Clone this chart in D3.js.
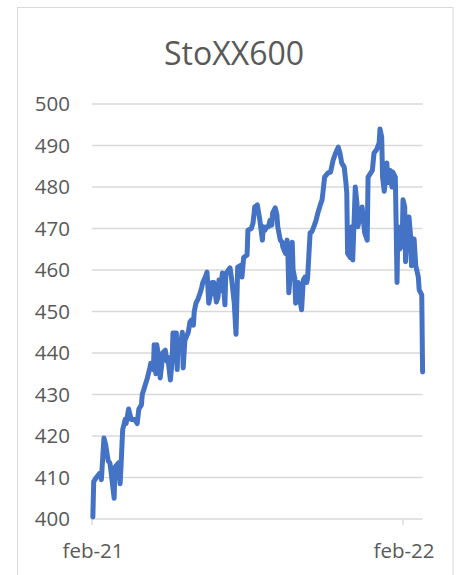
<!DOCTYPE html>
<html><head><meta charset="utf-8">
<script src="https://cdn.jsdelivr.net/npm/d3@7"></script>
<style>html,body{margin:0;padding:0;background:#fff;}svg{display:block;}</style>
</head><body>
<script>
const title = "StoXX600";
const yTicks = [400,410,420,430,440,450,460,470,480,490,500];
const xTickDates = ["2021-02-01","2022-02-01"];
const xTickLabels = ["feb-21","feb-22"];
const dates = [
"2021-02-02","2021-02-03","2021-02-06","2021-02-10","2021-02-12","2021-02-15","2021-02-17","2021-02-20","2021-02-22","2021-02-23",
"2021-02-27","2021-02-28","2021-03-04","2021-03-06","2021-03-07","2021-03-09","2021-03-12","2021-03-13","2021-03-16","2021-03-19",
"2021-03-21","2021-03-23","2021-03-26","2021-03-28","2021-03-31","2021-04-01","2021-04-04","2021-04-07","2021-04-10","2021-04-11",
"2021-04-14","2021-04-15","2021-04-17","2021-04-18","2021-04-21","2021-04-22","2021-04-24","2021-04-25","2021-04-28","2021-04-30",
"2021-05-01","2021-05-04","2021-05-06","2021-05-07","2021-05-11","2021-05-12","2021-05-13","2021-05-15","2021-05-18","2021-05-19",
"2021-05-21","2021-05-23","2021-05-25","2021-05-27","2021-05-29","2021-05-31","2021-06-01","2021-06-03","2021-06-05","2021-06-08",
"2021-06-10","2021-06-11","2021-06-14","2021-06-16","2021-06-17","2021-06-18","2021-06-21","2021-06-22","2021-06-24","2021-06-27",
"2021-06-29","2021-06-30","2021-07-02","2021-07-04","2021-07-05","2021-07-07","2021-07-08","2021-07-11","2021-07-13","2021-07-15",
"2021-07-18","2021-07-20","2021-07-22","2021-07-26","2021-07-27","2021-07-29","2021-08-02","2021-08-03","2021-08-07","2021-08-09",
"2021-08-11","2021-08-14","2021-08-15","2021-08-17","2021-08-20","2021-08-21","2021-08-23","2021-08-25","2021-08-27","2021-08-29",
"2021-08-31","2021-09-01","2021-09-04","2021-09-06","2021-09-07","2021-09-10","2021-09-12","2021-09-13","2021-09-16","2021-09-18",
"2021-09-19","2021-09-20","2021-09-23","2021-09-24","2021-09-25","2021-09-27","2021-09-28","2021-10-01","2021-10-03","2021-10-05",
"2021-10-07","2021-10-09","2021-10-11","2021-10-12","2021-10-15","2021-10-17","2021-10-20","2021-10-22","2021-10-24","2021-10-27",
"2021-10-29","2021-10-30","2021-11-01","2021-11-05","2021-11-08","2021-11-11","2021-11-14","2021-11-17","2021-11-19","2021-11-21",
"2021-11-24","2021-11-26","2021-11-27","2021-11-28","2021-12-01","2021-12-03","2021-12-04","2021-12-07","2021-12-09","2021-12-10",
"2021-12-15","2021-12-18","2021-12-21","2021-12-22","2021-12-27","2021-12-29","2022-01-01","2022-01-04","2022-01-05","2022-01-07",
"2022-01-08","2022-01-10","2022-01-13","2022-01-14","2022-01-17","2022-01-19","2022-01-20","2022-01-23","2022-01-24","2022-01-25",
"2022-01-26","2022-01-28","2022-01-31","2022-02-01","2022-02-03","2022-02-04","2022-02-07","2022-02-08","2022-02-10","2022-02-11",
"2022-02-14","2022-02-16","2022-02-19","2022-02-20","2022-02-23","2022-02-24"
];
const values = [
400.5,409,410,411,409.5,419.5,418,414,413.5,412,
405,412.5,413.5,408.5,412.5,421.5,424,423,426.5,424,
424,424,423,426.5,427.5,430,432,434,436.5,437.5,
436,442,435,442,438,434,437.5,440,440.7,438,
439,433.5,438,444.8,444.8,436,442.4,440.7,445,436.4,
443,444,445,447.5,448,446.7,450,452,452.8,454.5,
456,457,458.3,459.5,456,452,455,457,457,452.3,
453.5,457.6,455,459.3,457.6,451.6,459,460,460.5,457.6,
452,444.5,460.7,461.2,458.3,463,463.6,469.6,470,471.3,
475.2,475.7,474.5,472,467.2,470.4,469.6,470.4,470.4,472,
470.8,473.7,475,473.3,470.4,467.2,466.7,465.5,464,467.2,
463,454.5,462.4,466.7,460,458,452,457,452.8,450.4,
457.6,458.3,457,458,469,469.2,470.8,472,473.7,475.7,
476.9,478.6,482.4,483.4,483.6,486.5,488.2,489.6,488.2,485.8,
484.8,481,478.6,464,463,470.4,462.4,480,476,470.4,
475.2,469,467.2,482.4,484,488.2,489,490.6,494,492,
482.4,479,485.8,481,484,480,483.6,482.4,470.4,457,
470.4,465,466,476.9,475.2,462,472.8,472.8,468,461,
467.5,461,458.3,455.2,454,435.4
];

const W = 459, H = 575;
const parse = d3.utcParse("%Y-%m-%d");
const data = dates.map((d,i)=>({date:parse(d), value:values[i]}));

const svg = d3.select("body").append("svg").attr("width",W).attr("height",H);
svg.append("rect").attr("x",0).attr("y",0).attr("width",W).attr("height",H).attr("fill","#fff");
svg.append("rect").attr("x",17.5).attr("y",7.5).attr("width",435.5).attr("height",H+10)
  .attr("fill","#fff").attr("stroke","#d9d9d9").attr("stroke-width",1);

const x = d3.scaleUtc().domain([parse(xTickDates[0]), parse(xTickDates[1])]).range([92,403]);
const y = d3.scaleLinear().domain([400,500]).range([519,104]);
const xEnd = x(data[data.length-1].date);
const font = "'Open Sans', sans-serif";

// gridlines
svg.append("g").selectAll("line").data(yTicks).join("line")
  .attr("x1",92).attr("x2",xEnd).attr("y1",d=>y(d)).attr("y2",d=>y(d))
  .attr("stroke","#d9d9d9").attr("stroke-width",1.4);

// y labels
svg.append("g").selectAll("text").data(yTicks).join("text")
  .attr("x",70).attr("y",d=>y(d)).attr("dy","0.36em").attr("text-anchor","end")
  .attr("font-family",font).attr("font-size",20.5).attr("fill","#595959").text(d=>d);

// x axis ticks
const xt = xTickDates.map(parse);
svg.append("g").selectAll("line").data(xt).join("line")
  .attr("x1",d=>x(d)).attr("x2",d=>x(d)).attr("y1",519).attr("y2",525)
  .attr("stroke","#d9d9d9").attr("stroke-width",1.4);
svg.append("g").selectAll("text").data(xt).join("text")
  .attr("x",d=>x(d)+1).attr("y",558).attr("text-anchor","middle")
  .attr("font-family",font).attr("font-size",20.5).attr("fill","#595959")
  .text((d,i)=>xTickLabels[i]);

// line
svg.append("path").datum(data)
  .attr("d", d3.line().x(d=>x(d.date)).y(d=>y(d.value)))
  .attr("fill","none").attr("stroke","#4472C4").attr("stroke-width",5)
  .attr("stroke-linejoin","round").attr("stroke-linecap","round");

// title
svg.append("text").attr("x",234).attr("y",65).attr("text-anchor","middle")
  .attr("font-family",font).attr("font-size",32).attr("fill","#595959").text(title);
</script>
</body></html>
